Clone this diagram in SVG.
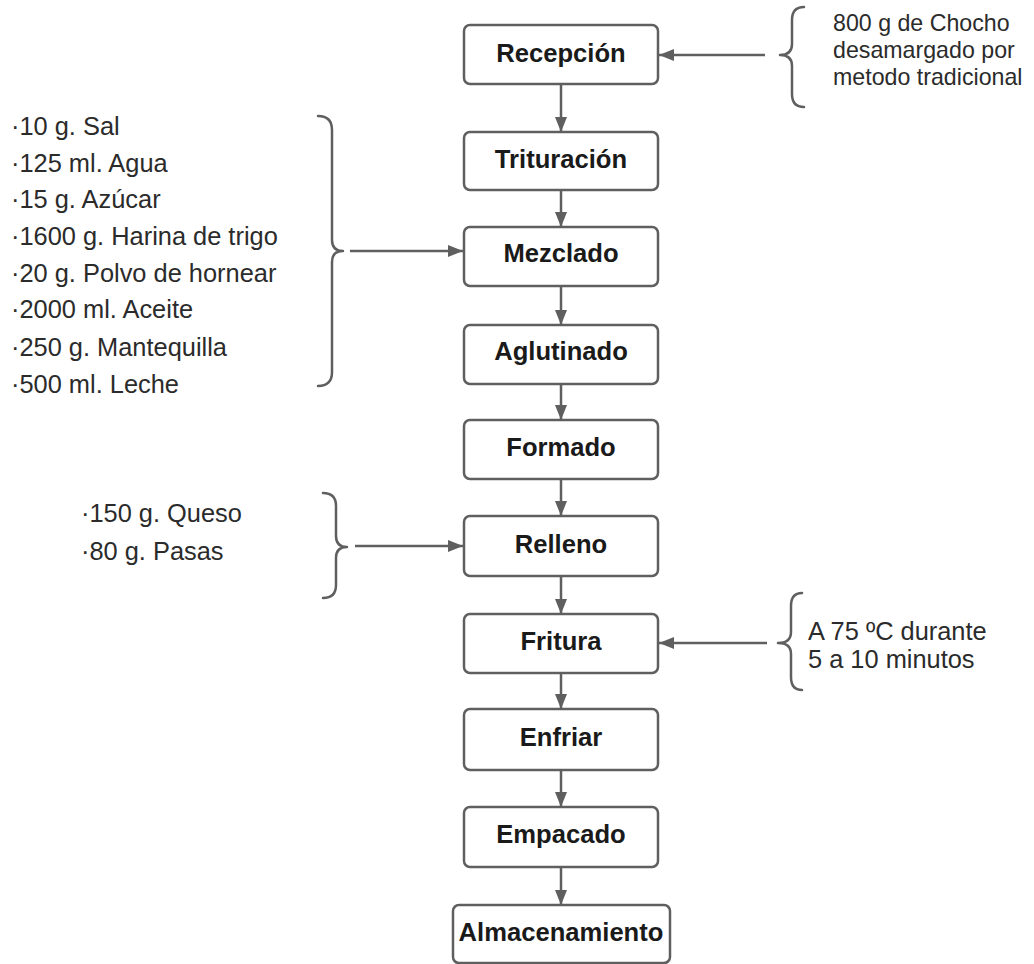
<svg xmlns="http://www.w3.org/2000/svg" width="1034" height="964" viewBox="0 0 1034 964">
  <defs>
    <style>
      .box { fill: #ffffff; stroke: #5f5f5f; stroke-width: 2.5; }
      .lbl { font-family: "Liberation Sans", Arial, sans-serif; font-weight: bold; font-size: 25.6px; fill: #1a1a1a; text-anchor: middle; }
      .note { font-family: "Liberation Sans", Arial, sans-serif; font-size: 25.4px; fill: #2b2b2b; }
      .note2 { font-family: "Liberation Sans", Arial, sans-serif; font-size: 23.2px; fill: #2b2b2b; }
      .edge { fill: none; stroke: #5f5f5f; stroke-width: 2.5; marker-end: url(#arrow); }
      .brace { fill: none; stroke: #5f5f5f; stroke-width: 2.5; stroke-linecap: round; stroke-linejoin: round; }
    </style>
    <marker id="arrow" viewBox="0 0 15 12" refX="15" refY="6" markerWidth="15" markerHeight="12" markerUnits="userSpaceOnUse" orient="auto">
      <path d="M0,0 L15,6 L0,12 Z" fill="#5f5f5f"/>
    </marker>
  </defs>
  <rect width="1034" height="964" fill="#ffffff"/>

  <!-- process steps -->
  <g id="recepcion"><rect class="box" x="464" y="25" width="194" height="59" rx="6"/><text class="lbl" x="561" y="62">Recepción</text></g>
  <g id="trituracion"><rect class="box" x="464" y="132" width="194" height="58" rx="6"/><text class="lbl" x="561" y="168">Trituración</text></g>
  <g id="mezclado"><rect class="box" x="464" y="227" width="194" height="59" rx="6"/><text class="lbl" x="561" y="262">Mezclado</text></g>
  <g id="aglutinado"><rect class="box" x="464" y="325" width="194" height="59" rx="6"/><text class="lbl" x="561" y="360">Aglutinado</text></g>
  <g id="formado"><rect class="box" x="464" y="420" width="194" height="59" rx="6"/><text class="lbl" x="561" y="456">Formado</text></g>
  <g id="relleno"><rect class="box" x="464" y="516" width="194" height="60" rx="6"/><text class="lbl" x="561" y="553">Relleno</text></g>
  <g id="fritura"><rect class="box" x="464" y="614" width="194" height="59" rx="6"/><text class="lbl" x="561" y="650">Fritura</text></g>
  <g id="enfriar"><rect class="box" x="464" y="709" width="194" height="61" rx="6"/><text class="lbl" x="561" y="746">Enfriar</text></g>
  <g id="empacado"><rect class="box" x="464" y="807" width="194" height="60" rx="6"/><text class="lbl" x="561" y="843">Empacado</text></g>
  <g id="almacenamiento"><rect class="box" x="453" y="905" width="217" height="58" rx="6"/><text class="lbl" x="561" y="941">Almacenamiento</text></g>

  <!-- ingredient / condition notes -->
  <g id="nota-chocho">
    <path class="brace" d="M804,7 Q792,7 792,20 L792,44 Q792,55 780,55 Q792,55 792,66 L792,94 Q792,107 804,107"/>
    <text class="note2" x="833" y="31">800 g de Chocho</text>
    <text class="note2" x="833" y="58">desamargado por</text>
    <text class="note2" x="833" y="85">metodo tradicional</text>
  </g>
  <g id="nota-mezcla">
    <path class="brace" d="M318,116 Q332,116 332,130 L332,240 Q332,251 343,251 Q332,251 332,262 L332,372 Q332,386 318,386"/>
    <text class="note" x="11" y="135">·10 g. Sal</text>
    <text class="note" x="11" y="172">·125 ml. Agua</text>
    <text class="note" x="11" y="208">·15 g. Azúcar</text>
    <text class="note" x="11" y="245">·1600 g. Harina de trigo</text>
    <text class="note" x="11" y="282">·20 g. Polvo de hornear</text>
    <text class="note" x="11" y="318">·2000 ml. Aceite</text>
    <text class="note" x="11" y="356">·250 g. Mantequilla</text>
    <text class="note" x="11" y="393">·500 ml. Leche</text>
  </g>
  <g id="nota-relleno">
    <path class="brace" d="M323,493 Q336,493 336,506 L336,536 Q336,547 347,547 Q336,547 336,558 L336,585 Q336,598 323,598"/>
    <text class="note" x="81" y="522">·150 g. Queso</text>
    <text class="note" x="81" y="560">·80 g. Pasas</text>
  </g>
  <g id="nota-fritura">
    <path class="brace" d="M802,593 Q791,593 791,606 L791,632 Q791,643 778,643 Q791,643 791,654 L791,677 Q791,690 802,690"/>
    <text class="note" x="808" y="640">A 75 ºC durante</text>
    <text class="note" x="808" y="668">5 a 10 minutos</text>
  </g>

  <!-- connectors -->
  <g id="connectors">
    <line class="edge" x1="561" y1="84" x2="561" y2="132"/>
    <line class="edge" x1="561" y1="190" x2="561" y2="227"/>
    <line class="edge" x1="561" y1="286" x2="561" y2="325"/>
    <line class="edge" x1="561" y1="384" x2="561" y2="420"/>
    <line class="edge" x1="561" y1="479" x2="561" y2="516"/>
    <line class="edge" x1="561" y1="576" x2="561" y2="614"/>
    <line class="edge" x1="561" y1="673" x2="561" y2="709"/>
    <line class="edge" x1="561" y1="770" x2="561" y2="807"/>
    <line class="edge" x1="561" y1="867" x2="561" y2="905"/>
    <line class="edge" x1="765" y1="55" x2="659" y2="55"/>
    <line class="edge" x1="350" y1="251" x2="463" y2="251"/>
    <line class="edge" x1="355" y1="546" x2="463" y2="546"/>
    <line class="edge" x1="767" y1="643" x2="659" y2="643"/>
  </g>
</svg>
